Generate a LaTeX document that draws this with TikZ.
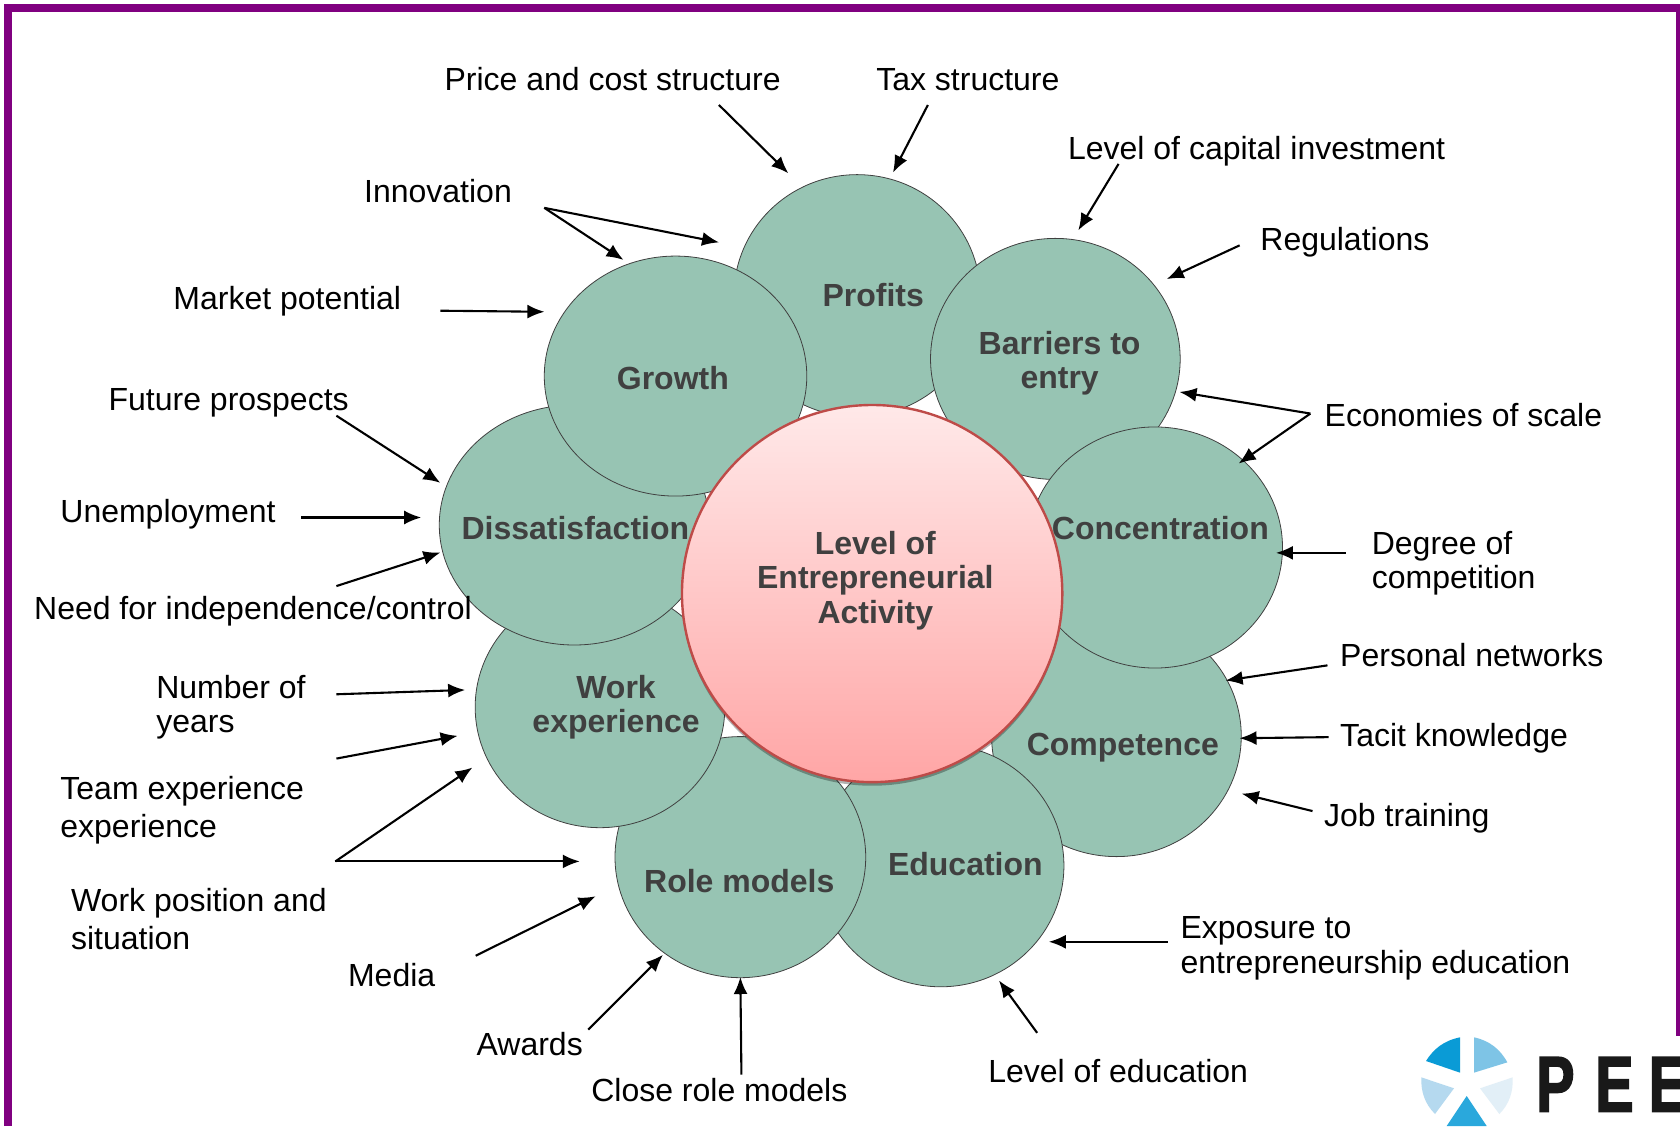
\documentclass[tikz,border=0pt]{standalone}
\usepackage{fontspec}
\setmainfont{Liberation Sans}
\newfontfamily\logofont[FakeStretch=0.72,FakeBold=2]{Liberation Sans Bold}
\usetikzlibrary{shapes.geometric,shadows,arrows.meta}
\definecolor{petal}{HTML}{97C4B3}
\definecolor{petaltext}{HTML}{404040}
\definecolor{framepurple}{HTML}{800080}
\definecolor{ringred}{HTML}{BE4B48}
\definecolor{logoa}{HTML}{0A9BD6}
\definecolor{logob}{HTML}{7EC4E6}
\definecolor{logoc}{HTML}{B5D9EF}
\definecolor{logod}{HTML}{E2EFF7}
\definecolor{logoe}{HTML}{2AA8DC}
\begin{document}
\begin{tikzpicture}[x=0.53571pt,y=-0.53571pt,
  petalnode/.style={ellipse,draw=black!75,line width=0.4pt,fill=petal,inner sep=0pt},
  petallabel/.style={font=\fontsize{16}{17.1}\selectfont\bfseries,text=petaltext,align=center,inner sep=0pt},
  factor/.style={font=\fontsize{16}{17.1}\selectfont,text=black,align=left,inner sep=0pt,anchor=west},
  conn/.style={-{Latex[length=8.5pt,width=7pt]},line width=1.05pt,black,shorten >=-0.6pt},
  framebar/.style={fill=framepurple,draw=none}]
\useasboundingbox (0,0) rectangle (1568,1051);
% frame
\fill[framebar] (4,4) rectangle (1568,11.5);
\fill[framebar] (4,4) rectangle (11.5,1051);
\fill[framebar] (1564.5,4) rectangle (1568,967);
% petals
\node[petalnode,minimum width=230pt*0.53571,minimum height=226pt*0.53571] (profits) at (800,276) {};
\node[petalnode,minimum width=233pt*0.53571,minimum height=225pt*0.53571] (barriers) at (985,335) {};
\node[petalnode,minimum width=233pt*0.53571,minimum height=225pt*0.53571] (competence) at (1042,687) {};
\node[petalnode,minimum width=238pt*0.53571,minimum height=225pt*0.53571] (concentration) at (1078,511) {};
\node[petalnode,minimum width=230pt*0.53571,minimum height=226pt*0.53571] (education) at (878,808) {};
\node[petalnode,minimum width=234pt*0.53571,minimum height=225pt*0.53571] (rolemodels) at (691,800) {};
\node[petalnode,minimum width=233pt*0.53571,minimum height=225pt*0.53571] (workexp) at (560,660) {};
\node[petalnode,minimum width=252pt*0.53571,minimum height=224pt*0.53571] (dissat) at (536,490) {};
\node[petalnode,minimum width=245pt*0.53571,minimum height=224pt*0.53571] (growth) at (630.5,351) {};
% centre
\node[ellipse,draw=ringred,line width=1.2pt,top color=pink!35,bottom color=red!35!white,
      minimum width=355pt*0.53571,minimum height=352pt*0.53571,inner sep=0pt,
      drop shadow={shadow xshift=0pt,shadow yshift=-1.8pt,opacity=0.3,fill=black}] (centre) at (814,554) {};
% petal labels
\node[petallabel] (lprofits) at (815,275) {Profits};
\node[petallabel] (lbarriers) at (989,339) {Barriers to\\entry};
\node[petallabel] (lgrowth) at (628,353) {Growth};
\node[petallabel] (ldissat) at (537,493) {Dissatisfaction};
\node[petallabel] (lconc) at (1083,493) {Concentration};
\node[petallabel] (lcomp) at (1048,698) {Competence};
\node[petallabel] (ledu) at (901,806) {Education};
\node[petallabel] (lrole) at (690,822) {Role models};
\node[petallabel] (lwork) at (575,660) {Work\\experience};
\node[petallabel] (lcentre) at (817,542) {Level of\\Entrepreneurial\\Activity};
% factor labels
\node[factor] (price) at (414.5,74) {Price and cost structure};
\node[factor] (tax) at (817.5,74) {Tax structure};
\node[factor] (capital) at (996.5,141) {Level of capital investment};
\node[factor] (regs) at (1176,226) {Regulations};
\node[factor] (econ) at (1236,387) {Economies of scale};
\node[factor] (degree) at (1280,526) {Degree of\\competition};
\node[factor] (personal) at (1250.5,611) {Personal networks};
\node[factor] (tacit) at (1250.5,689) {Tacit knowledge};
\node[factor] (job) at (1235.5,764) {Job training};
\node[factor] (exposure) at (1101.5,885) {Exposure to\\entrepreneurship education};
\node[factor] (leveledu) at (922,1000) {Level of education};
\node[factor] (close) at (551.5,1017) {Close role models};
\node[factor] (awards) at (444.5,974) {Awards};
\node[factor] (media) at (324.5,910) {Media};
\node[factor] (workpos) at (66,858) {Work position and\\[2pt]situation};
\node[factor] (team) at (56,756.5) {Team experience\\[2pt]experience};
\node[factor] (number) at (145.5,660) {Number of\\years};
\node[factor] (need) at (31.5,570.5) {Need for independence/control};
\node[factor] (unemp) at (56,480) {Unemployment};
\node[factor] (future) at (101,376) {Future prospects};
\node[factor] (market) at (161.5,281) {Market potential};
\node[factor] (innov) at (339.5,178) {Innovation};
% connector ends
\foreach \n/\p in {a1/{671,98},a2/{735,161},b1/{866,98},b2/{834,160},c1/{1044,153},c2/{1007,214},
  d1/{1157,229},d2/{1090,260},e0/{1223,386},e1/{1102,366},e2/{1157,432},f1/{1256,516},f2/{1192,516},
  g1/{1239,621},g2/{1145,635},h1/{1240,688},h2/{1158,689},i1/{1225,757},i2/{1160,741},
  j1/{1090,879},j2/{980,879},k1/{968,964},k2/{933,916},l1/{692,1003},l2/{691,913},
  m1/{549,961},m2/{618,892},n1/{444,892},n2/{555,837},o0/{313,804},o1/{440,717},o2/{540,804},
  p1/{314,708},p2/{426,687},q1/{314,648},q2/{433,644},r1/{314,547},r2/{410,516},
  s1/{281,483},s2/{392,483},t1/{314,388},t2/{410,450},u1/{411,290},u2/{507,291},
  v0/{508,194},v1/{581,242},v2/{670,226}}
  {\coordinate (\n) at (\p);}
\draw[conn] (a1) -- (a2);
\draw[conn] (b1) -- (b2);
\draw[conn] (c1) -- (c2);
\draw[conn] (d1) -- (d2);
\draw[conn] (e0) -- (e1);
\draw[conn] (e0) -- (e2);
\draw[conn] (f1) -- (f2);
\draw[conn] (g1) -- (g2);
\draw[conn] (h1) -- (h2);
\draw[conn] (i1) -- (i2);
\draw[conn] (j1) -- (j2);
\draw[conn] (k1) -- (k2);
\draw[conn] (l1) -- (l2);
\draw[conn] (m1) -- (m2);
\draw[conn] (n1) -- (n2);
\draw[conn] (o0) -- (o1);
\draw[conn] (o0) -- (o2);
\draw[conn] (p1) -- (p2);
\draw[conn] (q1) -- (q2);
\draw[conn] (r1) -- (r2);
\draw[conn] (s1) -- (s2);
\draw[conn] (t1) -- (t2);
\draw[conn] (u1) -- (u2);
\draw[conn] (v0) -- (v1);
\draw[conn] (v0) -- (v2);
% logo
\begin{scope}[shift={(1288,933.33)},x=0.16667pt,y=-0.16667pt]
\clip (0,0) rectangle (900,378);
\fill[white] (120,108) rectangle (900,378);
\fill[logoa] (240,112) .. controls (190,122) and (160,148) .. (138,183) -- (240,218) -- cycle;
\fill[logob] (282,112) .. controls (330,122) and (362,150) .. (382,187) -- (282,218) -- cycle;
\fill[logoc] (124,232) -- (222,265) -- (165,342) .. controls (135,312) and (122,275) .. (124,232) -- cycle;
\fill[logod] (398,232) -- (300,265) -- (358,342) .. controls (388,312) and (400,275) .. (398,232) -- cycle;
\fill[logoe] (260,288) -- (320,378) -- (200,378) -- cycle;
\node[font=\fontsize{39.6}{40}\selectfont\logofont,text=black!90,anchor=base west,inner sep=0pt] (logotext) at (468,335) {P\kern10.5pt E\kern7.7pt E};
\end{scope}
\end{tikzpicture}
\end{document}
